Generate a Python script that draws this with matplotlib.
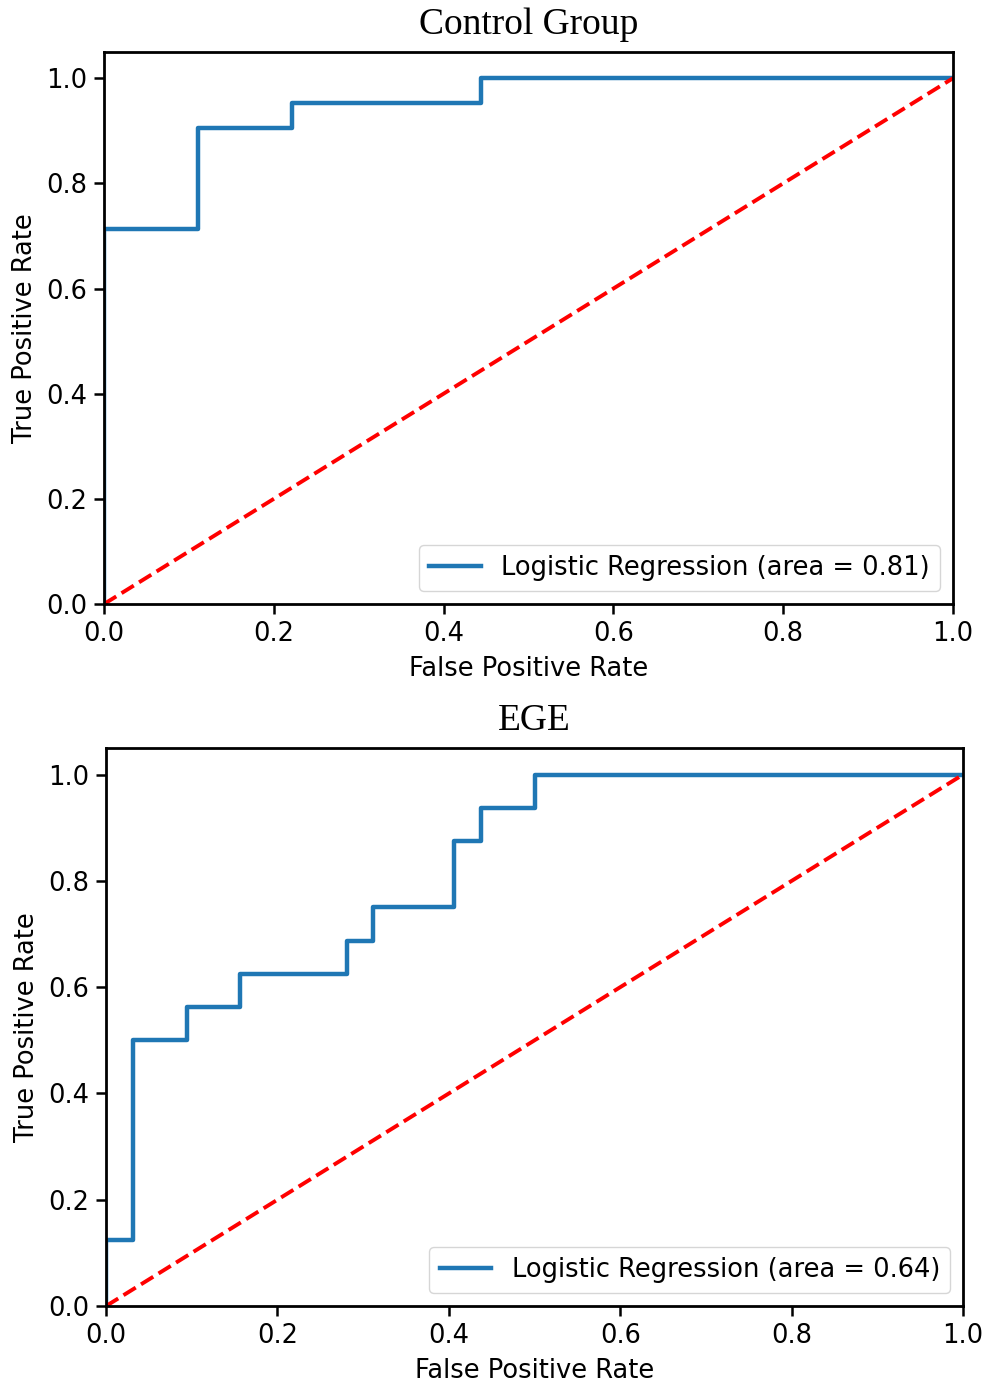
import matplotlib
matplotlib.use('Agg')
from matplotlib import pyplot as plt

# Curvas ROC
fpr_control = [0.0, 0.0, 0.111, 0.111, 0.222, 0.222, 0.444, 0.444, 1.0]
tpr_control = [0.0, 0.714, 0.714, 0.905, 0.905, 0.952, 0.952, 1.0, 1.0]
auc_control = 0.81

fpr_ege = [0.0, 0.0, 0.031, 0.031, 0.094, 0.094, 0.156, 0.156, 0.281, 0.281,
           0.312, 0.312, 0.406, 0.406, 0.437, 0.437, 0.5, 0.5, 1.0]
tpr_ege = [0.0, 0.125, 0.125, 0.5, 0.5, 0.5625, 0.5625, 0.625, 0.625, 0.6875,
           0.6875, 0.75, 0.75, 0.875, 0.875, 0.9375, 0.9375, 1.0, 1.0]
auc_ege = 0.64

titulos = ['Control Group', 'EGE']
xticks = [0.0, 0.2, 0.4, 0.6, 0.8, 1.0]
yticks = [0.0, 0.2, 0.4, 0.6, 0.8, 1.0]

plt.rcParams['font.family'] = 'DejaVu Sans'

fig = plt.figure(figsize=(9.84, 13.85), dpi=100)
ax1 = fig.add_axes([0.1057, 0.5639, 0.8628, 0.3986])
ax2 = fig.add_axes([0.1077, 0.0570, 0.8710, 0.4029])

datos = [(ax1, fpr_control, tpr_control, auc_control),
         (ax2, fpr_ege, tpr_ege, auc_ege)]

for i, (ax, fpr, tpr, auc) in enumerate(datos):
    ax.plot(fpr, tpr, color='#1f77b4', lw=3.2,
            label='Logistic Regression (area = %0.2f)' % auc)
    ax.plot([0, 1], [0, 1], 'r--', lw=2.8)
    ax.set_xlim(0.0, 1.0)
    ax.set_ylim(0.0, 1.05)
    ax.set_xticks(xticks)
    ax.set_yticks(yticks)
    ax.set_xlabel('False Positive Rate', fontsize=18.5, labelpad=7)
    ax.set_ylabel('True Positive Rate', fontsize=18.5, labelpad=6)
    ax.set_title(titulos[i], fontsize=27, family='Liberation Serif', pad=13)
    ax.tick_params(axis='both', labelsize=18.5, width=1.8, length=7, pad=5)
    for s in ax.spines.values():
        s.set_linewidth(2)
    ax.legend(loc='lower right', fontsize=18.5, handlelength=2.0)

plt.savefig('out.png', dpi=100)
